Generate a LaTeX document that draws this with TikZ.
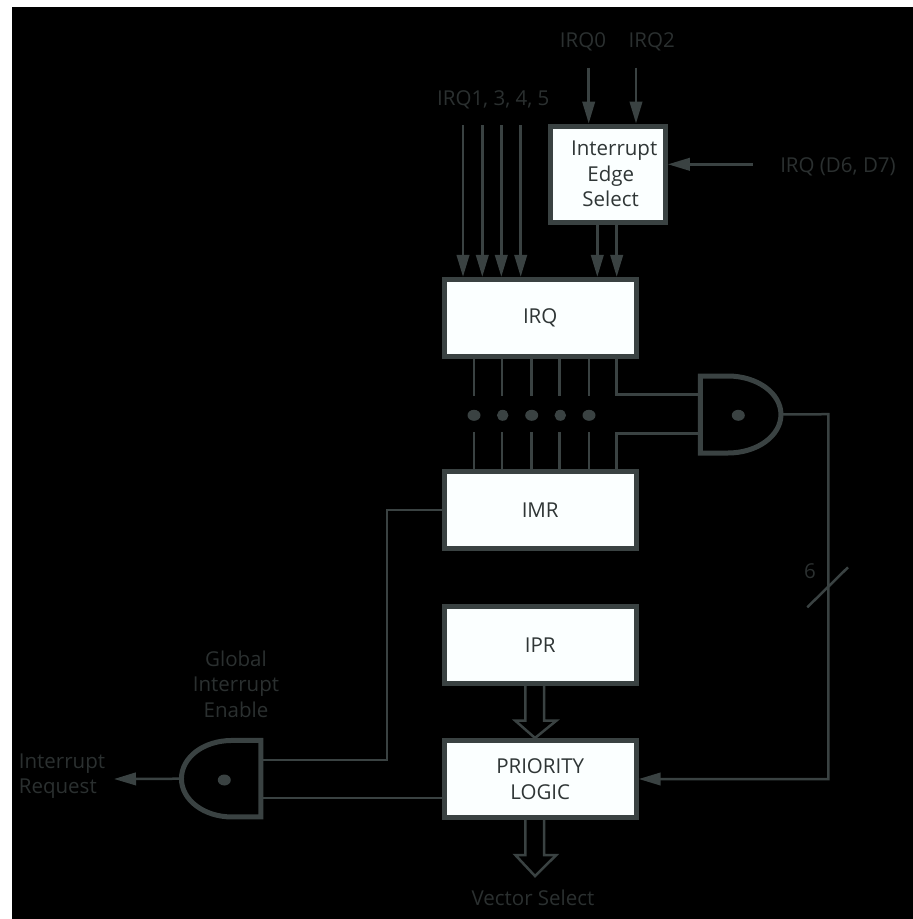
\documentclass[tikz,border=0pt]{standalone}
\usepackage{fontspec}
\setmainfont{Open Sans}
\usetikzlibrary{arrows.meta,shapes.geometric,calc}
\definecolor{ink}{HTML}{3A4242}
\definecolor{boxtext}{HTML}{2F3636}
\definecolor{dimtext}{HTML}{2B3030}
\definecolor{paper}{HTML}{FBFFFF}
\tikzset{
  x=1pt,y=-1pt,
  blockbox/.style={draw=ink,line width=5pt,fill=paper,text=boxtext,inner sep=0pt,align=center,
    font=\fontsize{20.5}{25.5}\selectfont},
  wire/.style={draw=ink,line width=2.5pt},
  arrowwire/.style={wire,-{Triangle[length=22pt,width=12.5pt]}},
  hollow/.style={wire,line join=miter},
  gateshape/.style={draw=ink,line width=5pt,line join=miter},
  gatebox/.style={rectangle,inner sep=0pt,outer sep=0pt},
  busdot/.style={ellipse,fill=ink,inner sep=0pt,outer sep=0pt,minimum width=13pt,minimum height=11pt},
  lab/.style={text=dimtext,inner sep=0pt,align=center,font=\fontsize{20.5}{25.5}\selectfont},
}
\begin{document}
\begin{tikzpicture}
\useasboundingbox (0,0) rectangle (913,919);
\fill[white] (0,0) rectangle (913,919);
\fill[black] (12,7) rectangle (913,919);

% blocks
\node[blockbox,minimum width=114.5pt,minimum height=96pt] (edge) at (608.2,174) {\hspace*{12pt}Interrupt\\\hspace*{5pt}Edge\\\hspace*{5pt}Select};
\node[blockbox,minimum width=192pt,minimum height=77.3pt] (irq) at (540.2,318) {IRQ};
\node[blockbox,minimum width=192pt,minimum height=76.7pt] (imr) at (540.2,510.2) {IMR};
\node[blockbox,minimum width=192pt,minimum height=76.7pt] (ipr) at (540.2,644.9) {IPR};
\node[blockbox,minimum width=192pt,minimum height=77pt] (prio) at (540.2,779) {PRIORITY\\LOGIC};

% gate bounding nodes (paths drawn from their anchors)
\node[gatebox,minimum width=80.5pt,minimum height=77pt] (gu) at (740.7,414.5) {};
\node[gatebox,minimum width=79.5pt,minimum height=76.5pt] (gl) at (221.2,778.7) {};
\draw[gateshape] (gu.north west) -- ++(27.5,0) .. controls +(29,0) and (gu.east |- 0,393) .. (gu.east)
   .. controls (gu.east |- 0,436) and ($(gu.south west)+(56.5,0)$) .. ($(gu.south west)+(27.5,0)$) -- (gu.south west) -- cycle;
\draw[gateshape] (gl.north east) -- ++(-29,0) .. controls +(-28,0) and (gl.west |- 0,757) .. (gl.west)
   .. controls (gl.west |- 0,800) and ($(gl.south east)+(-57,0)$) .. ($(gl.south east)+(-29,0)$) -- (gl.south east) -- cycle;
\node[busdot] (gud) at (738.3,415.3) {};
\node[busdot] (gld) at (224.3,780) {};

% labels
\node[lab] (l0) at (583,41.7) {IRQ0};
\node[lab] (l2) at (651.7,41.7) {IRQ2};
\node[lab] (l1) at (493.3,100) {IRQ1, 3, 4, 5};
\node[lab] (ld) at (838,166.7) {IRQ (D6, D7)};
\node[lab] (l6) at (810,570.7) {6};
\node[lab] (lg) at (236,684.3) {Global\\Interrupt\\Enable};
\node[lab,align=left,anchor=west] (lr) at (18.7,776) {Interrupt\\Request};
\node[lab] (lv) at (533,897.7) {Vector Select};

% inputs to IRQ
\foreach \n/\px in {a/463,b/482.3,c/501.3,d/520.7}{
  \coordinate (s\n) at (\px,125);
  \draw[arrowwire] (s\n) -- (s\n |- irq.north);
}
% edge-select inputs and outputs
\foreach \n/\px in {e/588.7,f/636}{
  \coordinate (s\n) at (\px,67.7);
  \draw[arrowwire] (s\n) -- (s\n |- edge.north);
}
\coordinate (sg) at (752.7,164.3);
\draw[arrowwire] (sg) -- (sg -| edge.east);
\foreach \px in {597.3,616.7}{
  \draw[arrowwire] (edge.south -| \px,0) -- (irq.north -| \px,0);
}
% bus between IRQ and IMR
\foreach \n/\px in {1/474,2/502,3/531.5,4/559.5,5/589}{
  \coordinate (u\n) at (\px,395.7);
  \coordinate (v\n) at (\px,432.3);
  \draw[wire] (irq.south -| u\n) -- (u\n);
  \draw[wire] (v\n) -- (imr.north -| v\n);
}
\node[busdot] (d1) at (474,415.3) {};
\node[busdot,minimum width=11.5pt] (d2) at (502.7,415.3) {};
\node[busdot] (d3) at (531.7,415.3) {};
\node[busdot,minimum width=11.5pt] (d4) at (560.3,415.3) {};
\node[busdot] (d5) at (589,415.3) {};
% to upper gate
\coordinate (tap) at (616.3,394.5);
\coordinate (tbp) at (616.3,433.5);
\draw[wire] (irq.south -| tap) -- (tap) -- (tap -| gu.west);
\draw[wire] (imr.north -| tbp) -- (tbp) -- (tbp -| gu.west);
% gate output to priority logic
\coordinate (ca) at (828.3,414.2);
\draw[arrowwire] (gu.east) -- (ca) -- (ca |- prio.east) -- (prio.east);
\coordinate (sa) at (807.3,607.3);
\coordinate (sb) at (848,567.3);
\draw[wire] (sa) -- (sb);
% IMR to lower gate
\coordinate (cb) at (386.8,760);
\draw[wire] (imr.west) -- (cb |- imr.west) -- (cb) -- (cb -| gl.east);
\coordinate (cc) at (300,798);
\draw[wire] (prio.west |- cc) -- (cc -| gl.east);
% gate output
\coordinate (oq) at (114,779);
\draw[arrowwire] (gl.west) -- (oq);
% hollow arrows
\coordinate (ha) at (525.3,720.7);
\coordinate (hb) at (544,720.7);
\draw[hollow] (ipr.south -| ha) -- (ha) -- ++(-10,0) -- ($(prio.north)+(-5.2,0)$) -- ($(hb)+(12.3,0)$) -- (hb) -- (ipr.south -| hb);
\coordinate (hc) at (525.3,855);
\coordinate (hd) at (544,855);
\coordinate (he) at (535,876);
\draw[hollow] (prio.south -| hc) -- (hc) -- ++(-10,0) -- (he) -- ($(hd)+(12.3,0)$) -- (hd) -- (prio.south -| hd);
\end{tikzpicture}
\end{document}
